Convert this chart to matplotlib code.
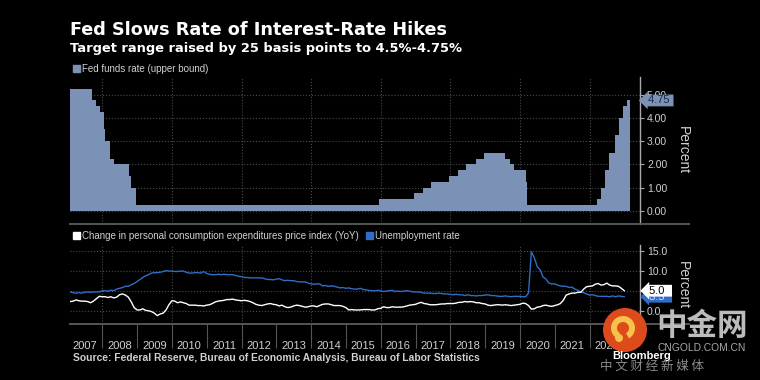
import numpy as np
import pandas as pd
import matplotlib
matplotlib.use('Agg')
import matplotlib.pyplot as plt
import matplotlib.transforms as mtransforms
from matplotlib.patches import Patch, Circle, Wedge
from matplotlib.lines import Line2D

plt.rcParams['font.family'] = ['Liberation Sans', 'DejaVu Sans']

# Fed funds target rate, upper bound (date of change, new level)
fed_dates = ['2007-01-01', '2007-09-18', '2007-10-31', '2007-12-11', '2008-01-22',
             '2008-01-30', '2008-03-18', '2008-04-30', '2008-10-08', '2008-10-29',
             '2008-12-16', '2015-12-16', '2016-12-14', '2017-03-15', '2017-06-14',
             '2017-12-13', '2018-03-21', '2018-06-13', '2018-09-26', '2018-12-19',
             '2019-07-31', '2019-09-18', '2019-10-30', '2020-03-03', '2020-03-15',
             '2022-03-16', '2022-05-04', '2022-06-15', '2022-07-27', '2022-09-21',
             '2022-11-02', '2022-12-14', '2023-02-01']
fed_rate = [5.25, 4.75, 4.50, 4.25, 3.50,
            3.00, 2.25, 2.00, 1.50, 1.00,
            0.25, 0.50, 0.75, 1.00, 1.25,
            1.50, 1.75, 2.00, 2.25, 2.50,
            2.25, 2.00, 1.75, 1.25, 0.25,
            0.50, 1.00, 1.75, 2.50, 3.25,
            4.00, 4.50, 4.75]
fed_end = '2023-03-01'

# monthly, Jan 2007 - Dec 2022
unemployment = [
    4.7, 4.5, 4.4, 4.5, 4.4, 4.6, 4.7, 4.6, 4.7, 4.7, 4.7, 5.0,
    5.0, 4.9, 5.1, 5.0, 5.4, 5.6, 5.8, 6.1, 6.1, 6.5, 6.8, 7.3,
    7.8, 8.3, 8.7, 9.0, 9.4, 9.5, 9.5, 9.6, 9.8, 10.0, 9.9, 9.9,
    9.8, 9.8, 9.9, 9.9, 9.6, 9.4, 9.4, 9.5, 9.5, 9.4, 9.8, 9.3,
    9.1, 9.0, 9.0, 9.1, 9.0, 9.1, 9.0, 9.0, 9.0, 8.8, 8.6, 8.5,
    8.3, 8.3, 8.2, 8.2, 8.2, 8.2, 8.2, 8.0, 7.8, 7.8, 7.7, 7.9,
    8.0, 7.7, 7.5, 7.6, 7.5, 7.5, 7.3, 7.2, 7.2, 7.2, 6.9, 6.7,
    6.6, 6.7, 6.7, 6.2, 6.3, 6.1, 6.2, 6.1, 5.9, 5.7, 5.8, 5.6,
    5.7, 5.5, 5.4, 5.4, 5.6, 5.3, 5.2, 5.1, 5.0, 5.0, 5.1, 5.0,
    4.8, 4.9, 5.0, 5.1, 4.8, 4.9, 4.8, 4.9, 5.0, 4.9, 4.7, 4.7,
    4.7, 4.6, 4.4, 4.4, 4.4, 4.3, 4.3, 4.4, 4.3, 4.2, 4.2, 4.1,
    4.0, 4.1, 4.0, 4.0, 3.8, 4.0, 3.8, 3.8, 3.7, 3.8, 3.8, 3.9,
    4.0, 3.8, 3.8, 3.7, 3.6, 3.6, 3.7, 3.6, 3.5, 3.6, 3.6, 3.6,
    3.5, 3.5, 4.4, 14.7, 13.2, 11.0, 10.2, 8.4, 7.9, 6.9, 6.7, 6.7,
    6.4, 6.2, 6.1, 6.1, 5.8, 5.9, 5.4, 5.1, 4.7, 4.5, 4.2, 3.9,
    4.0, 3.8, 3.6, 3.6, 3.6, 3.6, 3.5, 3.7, 3.5, 3.7, 3.6, 3.5,
]
pce_yoy = [
    2.3, 2.4, 2.7, 2.5, 2.4, 2.4, 2.3, 2.0, 2.4, 3.0, 3.6, 3.5,
    3.5, 3.3, 3.5, 3.2, 3.4, 4.0, 4.2, 3.9, 3.4, 2.2, 0.8, 0.2,
    0.2, 0.5, 0.1, 0.0, -0.2, -0.6, -1.2, -0.8, -0.6, 0.2, 1.5, 2.5,
    2.4, 2.0, 2.2, 2.0, 1.8, 1.4, 1.4, 1.4, 1.3, 1.3, 1.2, 1.4,
    1.5, 1.8, 2.2, 2.4, 2.5, 2.6, 2.8, 2.8, 2.9, 2.7, 2.6, 2.5,
    2.6, 2.5, 2.3, 2.0, 1.6, 1.4, 1.3, 1.5, 1.7, 1.8, 1.6, 1.5,
    1.2, 1.4, 1.0, 0.8, 0.9, 1.2, 1.4, 1.3, 1.1, 0.9, 1.0, 1.2,
    1.2, 1.0, 1.3, 1.6, 1.7, 1.7, 1.5, 1.3, 1.3, 1.3, 1.1, 0.8,
    0.2, 0.3, 0.2, 0.2, 0.2, 0.3, 0.3, 0.3, 0.2, 0.2, 0.5, 0.6,
    1.0, 0.8, 0.8, 1.0, 0.9, 0.9, 0.9, 1.0, 1.2, 1.4, 1.5, 1.6,
    1.9, 2.1, 1.8, 1.7, 1.5, 1.5, 1.5, 1.6, 1.7, 1.7, 1.8, 1.8,
    1.8, 1.9, 2.1, 2.1, 2.3, 2.2, 2.3, 2.2, 2.0, 2.0, 1.8, 1.7,
    1.4, 1.3, 1.4, 1.5, 1.5, 1.4, 1.5, 1.4, 1.3, 1.4, 1.5, 1.6,
    1.9, 1.8, 1.3, 0.4, 0.5, 0.9, 1.0, 1.3, 1.4, 1.2, 1.1, 1.3,
    1.5, 1.8, 2.6, 3.9, 4.2, 4.4, 4.4, 4.6, 4.6, 5.4, 6.0, 6.1,
    6.2, 6.6, 6.8, 6.4, 6.5, 6.9, 6.4, 6.2, 6.2, 6.1, 5.6, 5.0,
]
years = list(range(2007, 2023))
top_ticks = [0, 1, 2, 3, 4, 5]
bottom_ticks = [0, 5, 10, 15]

area_color = '#7b92b6'
blue = '#2f6dc6'
grid_c = '#4a4a4a'
text_c = '#d0d0d0'

months = pd.date_range('2007-01-01', periods=len(pce_yoy), freq='MS') + pd.offsets.MonthEnd(0)
fed_x = pd.to_datetime(fed_dates + [fed_end])
fed_y = fed_rate + [fed_rate[-1]]

fig = plt.figure(figsize=(7.6, 3.8), dpi=100, facecolor='black')
W, H = 760.0, 380.0
ax1 = fig.add_axes([70 / W, 1 - 224 / H, 570 / W, (224 - 77) / H])
ax2 = fig.add_axes([70 / W, 1 - 324 / H, 570 / W, (324 - 245) / H])
xmin, xmax = pd.Timestamp('2007-01-27'), pd.Timestamp('2023-06-14')

ax1.fill_between(fed_x, fed_y, step='post', color=area_color, lw=0, zorder=2)
ax1.set_ylim(-0.57, 5.76)

ax2.plot(months, unemployment, color=blue, lw=1.0, zorder=3)
ax2.plot(months, pce_yoy, color='white', lw=1.0, zorder=4)
ax2.set_ylim(-3.3, 16.4)

for ax, ticks, fmt in [(ax1, top_ticks, '{:.2f}'), (ax2, bottom_ticks, '{:.1f}')]:
    ax.set_facecolor('black')
    ax.set_xlim(xmin, xmax)
    for s in ['top', 'left', 'bottom']:
        ax.spines[s].set_visible(False)
    ax.spines['right'].set_color('#aaaaaa')
    ax.spines['right'].set_linewidth(1)
    ax.yaxis.tick_right()
    ax.set_yticks(ticks)
    ax.set_yticklabels([fmt.format(t) for t in ticks])
    ax.tick_params(axis='y', length=3, width=0.8, color='#aaaaaa', pad=2,
                   labelsize=7.5, labelcolor=text_c)
    ax.grid(axis='y', ls=':', color=grid_c, lw=0.8, zorder=0)
    for d in pd.date_range('2008-01-01', '2022-01-01', freq='2YS'):
        ax.axvline(d, ls=':', color=grid_c, lw=0.8, zorder=0)

ax1.set_xticks([])

# year dividers + centred year labels
ax2.set_xticks(pd.to_datetime([f'{y}-01-01' for y in years[1:]] + ['2023-01-01']))
ax2.set_xticklabels([])
ax2.tick_params(axis='x', which='major', length=17, width=0.8, color='#555555')
ax2.set_xticks(pd.to_datetime([f'{y}-07-02' for y in years]), minor=True)
ax2.set_xticklabels([str(y) for y in years], minor=True)
ax2.tick_params(axis='x', which='minor', length=0, pad=12, labelsize=8, labelcolor=text_c)

# gray separator lines under each panel
for yy in [224, 324]:
    fig.add_artist(Line2D([70 / W, 689 / W], [1 - yy / H, 1 - yy / H],
                          color='#555555', lw=1.4, transform=fig.transFigure))

# last-value tags
tag = dict(ha='center', va='center', fontsize=8, clip_on=False)
bt1 = mtransforms.blended_transform_factory(ax1.transAxes, ax1.transData)
ax1.text(1.033, fed_rate[-1], f' {fed_rate[-1]:.2f} ', transform=bt1, color='#1b2a48',
         zorder=10, bbox=dict(boxstyle='larrow,pad=0.08', fc=area_color, ec='none'), **tag)
bt2 = mtransforms.blended_transform_factory(ax2.transAxes, ax2.transData)
ax2.text(1.033, unemployment[-1], f' {unemployment[-1]:.1f}  ', transform=bt2,
         color='#cfe0ff', zorder=10,
         bbox=dict(boxstyle='larrow,pad=0.08', fc=blue, ec='none'), **tag)
ax2.text(1.033, pce_yoy[-1], f' {pce_yoy[-1]:.1f}  ', transform=bt2, color='black',
         zorder=11, bbox=dict(boxstyle='larrow,pad=0.08', fc='white', ec='none'), **tag)

fig.text(683 / W, 1 - 150 / H, 'Percent', rotation=270, ha='center', va='center',
         fontsize=10, color=text_c)
fig.text(683 / W, 1 - 285 / H, 'Percent', rotation=270, ha='center', va='center',
         fontsize=10, color=text_c)

# legends
fig.legend(handles=[Patch(color=area_color)], labels=['Fed funds rate (upper bound)'],
           loc='center left', bbox_to_anchor=(73 / W, 1 - 69 / H), frameon=False,
           handlelength=0.7, handleheight=0.7, handletextpad=0.25, borderpad=0,
           borderaxespad=0, fontsize=7, labelcolor=text_c)
fig.legend(handles=[Patch(color='white'), Patch(color=blue)],
           labels=['Change in personal consumption expenditures price index (YoY)',
                   'Unemployment rate'],
           loc='center left', bbox_to_anchor=(73 / W, 1 - 236 / H), frameon=False, ncol=2,
           handlelength=0.7, handleheight=0.7, handletextpad=0.25, columnspacing=0.7,
           borderpad=0, borderaxespad=0, fontsize=7, labelcolor=text_c)

# titles and source
fig.text(70 / W, 1 - 35 / H, 'Fed Slows Rate of Interest-Rate Hikes', family='DejaVu Sans',
         weight='bold', fontsize=12.7, color='white', va='baseline')
fig.text(70 / W, 1 - 52 / H, 'Target range raised by 25 basis points to 4.5%-4.75%',
         family='DejaVu Sans', weight='bold', fontsize=9.4, color='white', va='baseline')
fig.text(73 / W, 1 - 358 / H,
         'Source: Federal Reserve, Bureau of Economic Analysis, Bureau of Labor Statistics',
         weight='bold', fontsize=7.4, color=text_c, va='center')

# watermark overlay
wax = fig.add_axes([0, 0, 1, 1], zorder=20)
wax.set_xlim(0, W)
wax.set_ylim(H, 0)
wax.axis('off')
wax.add_patch(Circle((625, 330), 22, fc='#dd4a1c', ec='none'))
wax.add_patch(Wedge((623, 328), 12, 120, 420, width=6, fc='#f6c24a', ec='none'))
wax.add_patch(Circle((619, 338), 4, fc='#f6c24a', ec='none'))
wax.text(656, 326, '中金网', family=['Noto Sans CJK SC', 'DejaVu Sans'], weight='bold',
         fontsize=22, color='#bcbcbc', va='center', ha='left')
wax.text(657, 348, 'CNGOLD.COM.CN', fontsize=7.4, color='#a8a8a8', va='center', ha='left')
wax.text(612, 356, 'Bloomberg', weight='bold', fontsize=8, color='white', va='center', ha='left')
wax.text(600, 366, '中 文 财 经 新 媒 体', family=['Noto Sans CJK SC', 'DejaVu Sans'],
         fontsize=9, color='#8a8a8a', va='center', ha='left')

fig.savefig('out.png', dpi=100, facecolor='black')
